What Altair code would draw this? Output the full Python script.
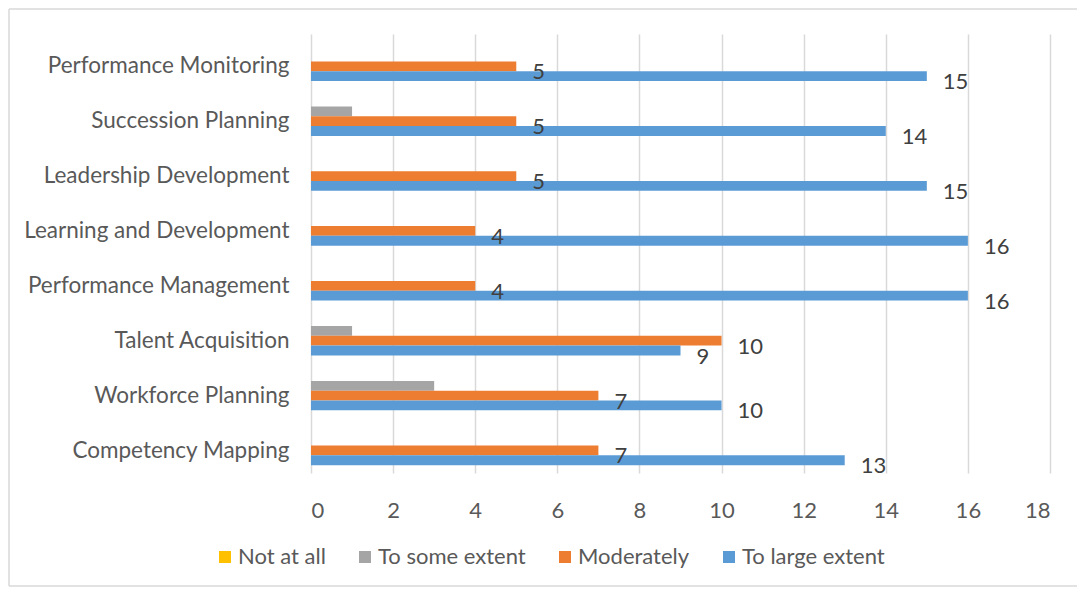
import altair as alt
import pandas as pd

categories = [
    "Performance Monitoring",
    "Succession Planning",
    "Leadership Development",
    "Learning and Development",
    "Performance Management",
    "Talent Acquisition",
    "Workforce Planning",
    "Competency Mapping",
]
series = ["Not at all", "To some extent", "Moderately", "To large extent"]
colors = ["#FFC000", "#A5A5A5", "#ED7D31", "#5B9BD5"]

not_at_all = [0, 0, 0, 0, 0, 0, 0, 0]
to_some_extent = [0, 1, 0, 0, 0, 1, 3, 0]
moderately = [5, 5, 5, 4, 4, 10, 7, 7]
to_large_extent = [15, 14, 15, 16, 16, 9, 10, 13]

x_ticks = [0, 2, 4, 6, 8, 10, 12, 14, 16, 18]

rows = []
for s, vals in zip(series, [not_at_all, to_some_extent, moderately, to_large_extent]):
    for c, v in zip(categories, vals):
        rows.append({"category": c, "series": s, "value": v})
df = pd.DataFrame(rows)

FONT = "Lato"

y_enc = alt.Y(
    "category:N",
    sort=categories,
    title=None,
    scale=alt.Scale(paddingInner=0.286, paddingOuter=0.143),
    axis=alt.Axis(
        domain=False, ticks=False, labelPadding=22, labelFontSize=22.5,
        labelColor="#595959", labelFont=FONT, labelOffset=5, labelLimit=400,
    ),
)
x_enc = alt.X(
    "value:Q",
    title=None,
    scale=alt.Scale(domain=[0, 18], nice=False),
    axis=alt.Axis(
        values=x_ticks, domain=False, ticks=False, grid=True,
        gridColor="#d9d9d9", gridWidth=1.5, labelPadding=27,
        labelFontSize=22, labelColor="#595959", labelFont=FONT,
    ),
)
yoff_enc = alt.YOffset("series:N", sort=series, scale=alt.Scale(domain=series))

bars = alt.Chart(df).mark_bar().encode(
    y=y_enc,
    x=x_enc,
    yOffset=yoff_enc,
    color=alt.Color(
        "series:N",
        sort=series,
        scale=alt.Scale(domain=series, range=colors),
        legend=alt.Legend(
            title=None, orient="none", direction="horizontal",
            legendX=-97, legendY=512, symbolType="square", symbolSize=144,
            symbolStrokeWidth=0, labelFontSize=22, labelColor="#595959",
            labelFont=FONT, labelOffset=2, columnPadding=28,
        ),
    ),
)

labels = (
    alt.Chart(df)
    .transform_filter(alt.FieldOneOfPredicate(field="series", oneOf=["Moderately", "To large extent"]))
    .mark_text(align="left", baseline="middle", dx=16, dy=6, fontSize=22, font=FONT, color="#404040")
    .encode(y=y_enc, x=x_enc, yOffset=yoff_enc, text="value:Q")
)

one = pd.DataFrame({"a": [0]})
frame_left = alt.Chart(one).mark_rule(color="#d9d9d9", strokeWidth=1.5, clip=False).encode(
    x=alt.value(-302), y=alt.value(-25), y2=alt.value(552)
)
frame_top = alt.Chart(one).mark_rule(color="#d9d9d9", strokeWidth=1.5, clip=False).encode(
    x=alt.value(-302), x2=alt.value(766), y=alt.value(-25)
)
frame_bottom = alt.Chart(one).mark_rule(color="#d9d9d9", strokeWidth=1.5, clip=False).encode(
    x=alt.value(-302), x2=alt.value(766), y=alt.value(552)
)

chart = (
    alt.layer(bars, labels, frame_left, frame_top, frame_bottom)
    .properties(
        width=739,
        height=439,
        padding={"left": 303, "top": 26, "right": 27, "bottom": 114},
        autosize=alt.AutoSizeParams(type="none"),
    )
    .configure_view(stroke=None)
)

chart.save("out.html", embed_options={"renderer": "svg", "actions": False})
